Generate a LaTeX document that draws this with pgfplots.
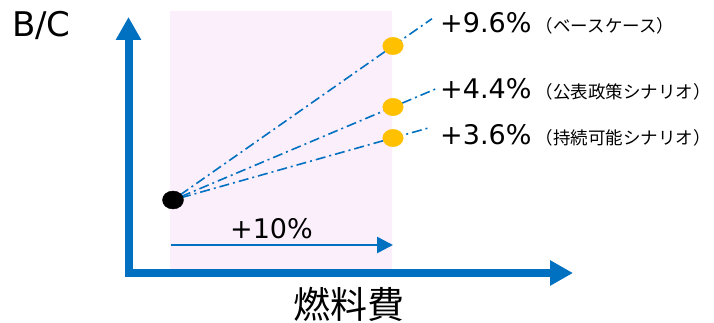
\documentclass[border=0pt]{standalone}
\usepackage{pgfplots}
\pgfplotsset{compat=1.18}
\usetikzlibrary{arrows.meta}
\usepackage{fontspec}
\setmainfont{DejaVu Sans}
\newfontfamily\cjk{Noto Sans CJK JP}
\definecolor{axblue}{RGB}{0,112,192}
\definecolor{dotyel}{RGB}{255,192,0}
\definecolor{lpink}{RGB}{252,239,252}
\begin{document}
\begin{tikzpicture}
\begin{axis}[
  scale only axis, width=714pt, height=323pt,
  xmin=0, xmax=714, ymin=0, ymax=323, y dir=reverse,
  hide axis, clip=false,
]
% pink shaded region
\addplot[fill=lpink, draw=none] coordinates {(170,11) (392,11) (392,270) (170,270) (170,11)};
% axes (thick arrows)
\addplot[axblue, line width=8pt, line join=miter, {Triangle[length=23pt,width=24pt]}-{Triangle[length=23pt,width=24pt]}]
  coordinates {(128.5,17) (128.5,273) (573,273)};
% +10% arrow
\addplot[axblue, line width=2.5pt, -{Triangle[length=16pt,width=16pt]}]
  coordinates {(171,245) (393,245)};
% dots
\addplot[only marks, mark=*, mark size=8.7pt, mark options={xscale=1.18, draw=dotyel, fill=dotyel}]
  coordinates {(393,46) (393,107) (393,138)};
\addplot[only marks, mark=*, mark size=9pt, mark options={xscale=1.17, draw=black, fill=black}]
  coordinates {(173,200)};
% dash-dot lines
\addplot[axblue, line width=1.6pt, dash pattern=on 10pt off 4pt on 2pt off 4pt]
  coordinates {(180,195) (432,18.7)};
\addplot[axblue, line width=1.6pt, dash pattern=on 10pt off 4pt on 2pt off 4pt]
  coordinates {(181,196.6) (437,88.4)};
\addplot[axblue, line width=1.6pt, dash pattern=on 10pt off 4pt on 2pt off 4pt]
  coordinates {(181,197.7) (428,128.1)};
% texts
\node[anchor=base west, inner sep=0pt] at (axis cs:12,37) {\fontsize{34pt}{36pt}\selectfont B/C};
\node[anchor=base west, inner sep=0pt] at (axis cs:440,33) {\fontsize{27pt}{30pt}\selectfont +9.6\%\,{\cjk\fontsize{17.5pt}{20pt}\selectfont （ベースケース）}};
\node[anchor=base west, inner sep=0pt] at (axis cs:440,99) {\fontsize{27pt}{30pt}\selectfont +4.4\%\,{\cjk\fontsize{17.5pt}{20pt}\selectfont （公表政策シナリオ）}};
\node[anchor=base west, inner sep=0pt] at (axis cs:440,145) {\fontsize{27pt}{30pt}\selectfont +3.6\%\,{\cjk\fontsize{17.5pt}{20pt}\selectfont （持続可能シナリオ）}};
\node[anchor=base, inner sep=0pt] at (axis cs:271.5,238) {\fontsize{27pt}{30pt}\selectfont +10\%};
\node[anchor=center, inner sep=0pt] at (axis cs:349,304) {\cjk\fontsize{37pt}{40pt}\selectfont 燃料費};
\end{axis}
\pgfresetboundingbox
\path[use as bounding box] (0,0) rectangle (714pt,323pt);
\end{tikzpicture}
\end{document}
